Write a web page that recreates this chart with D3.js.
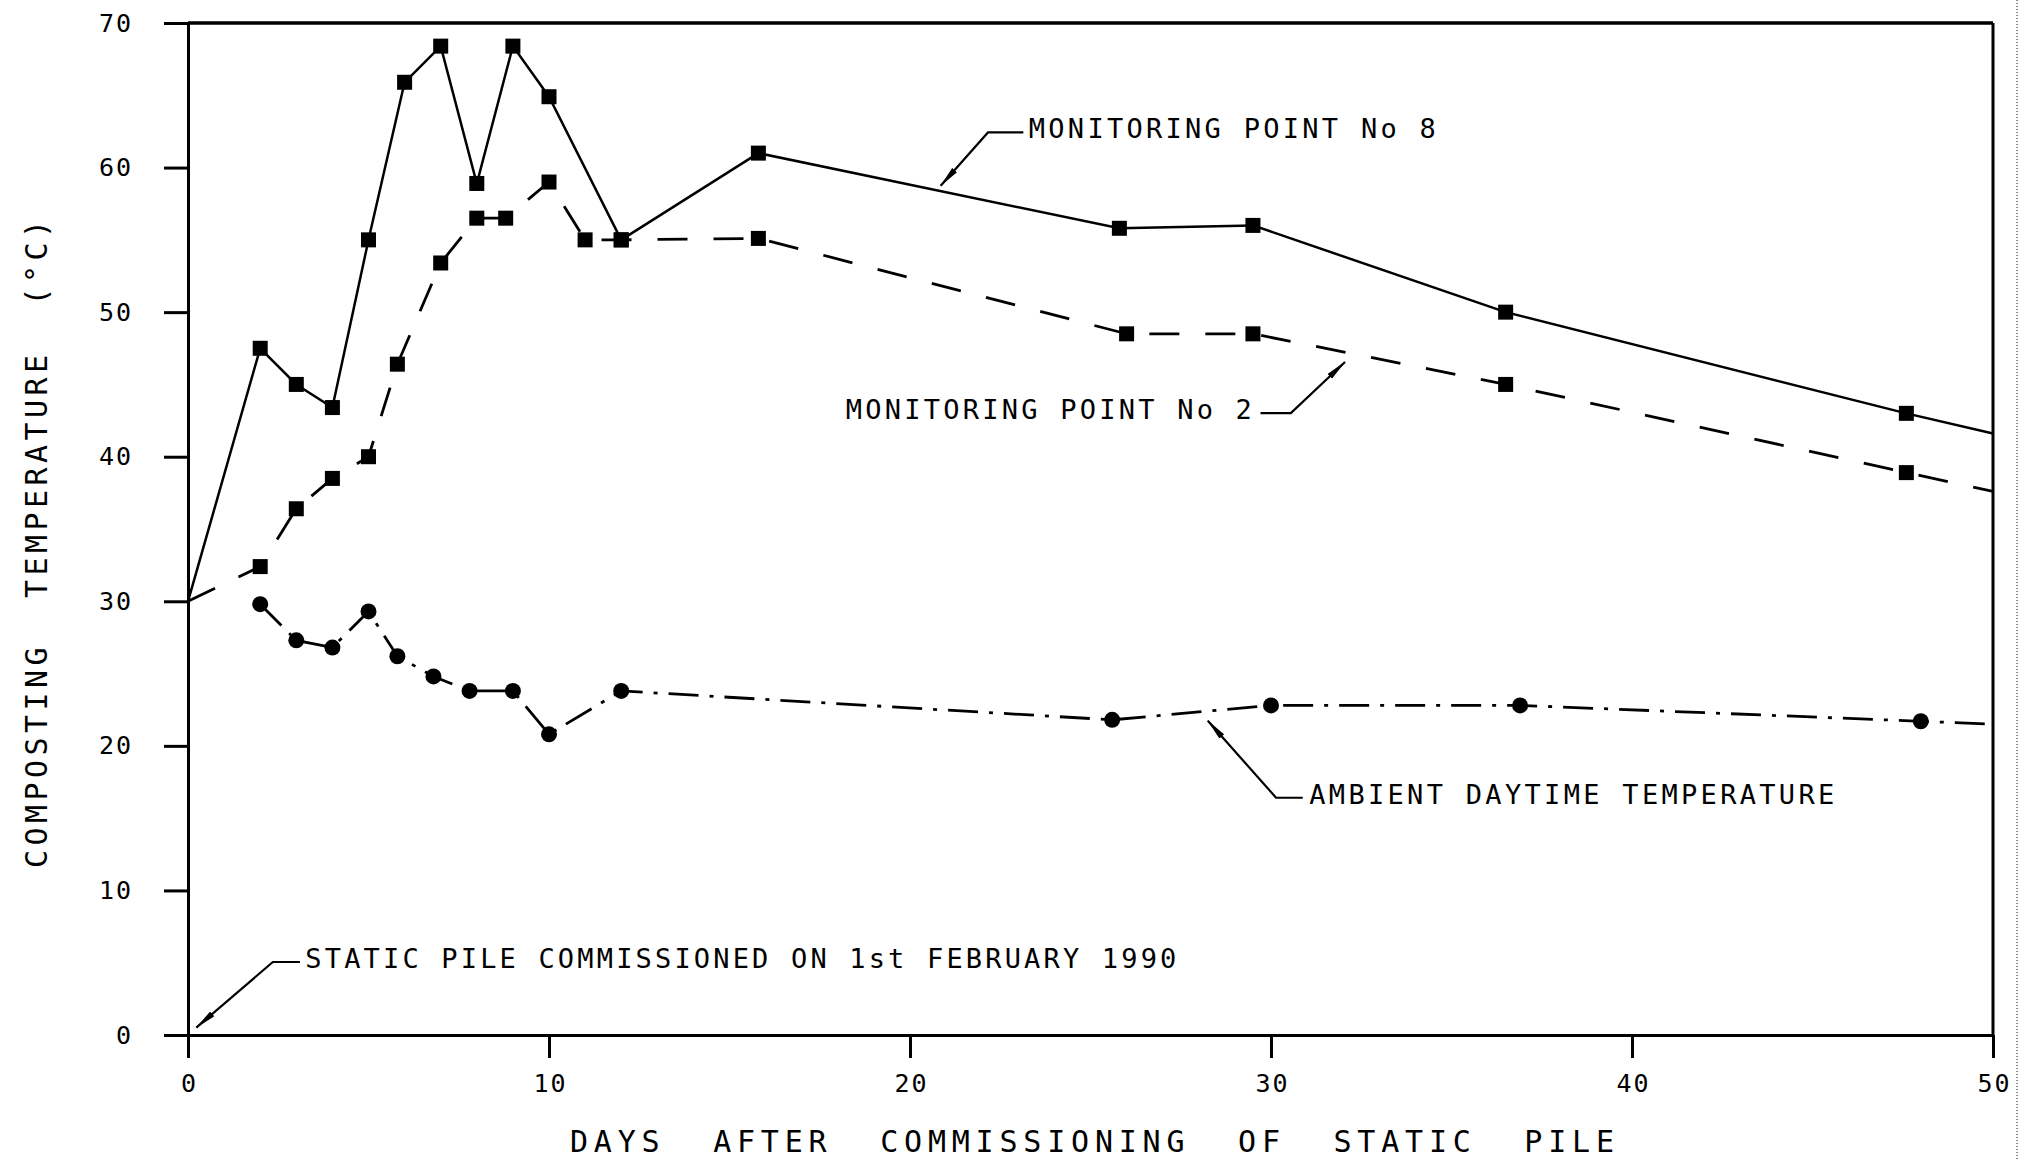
<!DOCTYPE html>
<html>
<head>
<meta charset="utf-8">
<script src="https://cdn.jsdelivr.net/npm/d3@7"></script>
<style>
    body { margin: 0; background: white; }
    svg { display: block; }
    text { font-family: "DejaVu Sans Mono", monospace; fill: black; }
</style>
</head>
<body>
<svg id="chart"></svg>
<script>
// monitoring point No 8 (solid line, squares)
var mp8Days = [2, 3, 4, 5, 6, 7, 8, 9, 10, 12, 15.8, 25.8, 29.5, 36.5, 47.6];
var mp8Temp = [47.5, 45, 43.4, 55, 65.9, 68.4, 58.9, 68.4, 64.9, 55, 61, 55.8, 56, 50, 43];
// monitoring point No 2 (dashed line, squares)
var mp2Days = [2, 3, 4, 5, 5.8, 7, 8, 8.8, 10, 11, 12, 15.8, 26, 29.5, 36.5, 47.6];
var mp2Temp = [32.4, 36.4, 38.5, 40, 46.4, 53.4, 56.5, 56.5, 59, 55, 55, 55.1, 48.5, 48.5, 45, 38.9];
// ambient daytime temperature (dash-dot line, circles)
var ambDays = [2, 3, 4, 5, 5.8, 6.8, 7.8, 9, 10, 12, 25.6, 30, 36.9, 48];
var ambTemp = [29.8, 27.3, 26.8, 29.3, 26.2, 24.8, 23.8, 23.8, 20.8, 23.8, 21.8, 22.8, 22.8, 21.7];

// start value (day 0) and the value where each line meets the right axis
var startTemp = 30;
var edgeDay = 50;
var mp8Edge = 41.6, mp2Edge = 37.6, ambEdge = 21.5;

var xTicks = [0, 10, 20, 30, 40, 50];
var yTicks = [0, 10, 20, 30, 40, 50, 60, 70];

var xTitle = "DAYS  AFTER  COMMISSIONING  OF  STATIC  PILE";
var yTitle = "COMPOSTING  TEMPERATURE  (\u00B0C)";

// labels with leader arrows, given in data units
var notes = [
    {text: "MONITORING POINT No 8", tip: [20.85, 58.74], bend: [22.16, 62.43], end: 23.14, tx: 23.29, anchor: "start", len: 407},
    {text: "MONITORING POINT No 2", tip: [32.05, 46.55], bend: [30.55, 43.02], end: 29.71, tx: 29.47, anchor: "end", len: 406},
    {text: "AMBIENT DAYTIME TEMPERATURE", tip: [28.25, 21.74], bend: [30.14, 16.41], end: 30.88, tx: 31.06, anchor: "start", len: 525},
    {text: "STATIC PILE COMMISSIONED ON 1st FEBRUARY 1990", tip: [0.23, 0.51], bend: [2.35, 5.05], end: 3.10, tx: 3.25, anchor: "start", len: 871}
];

var W = 2032, H = 1161;
var plotLeft = 188, plotRight = 1993, plotTop = 23, plotBottom = 1035;

var svg = d3.select("#chart").attr("width", W).attr("height", H);
svg.append("rect").attr("width", W).attr("height", H).attr("fill", "white");

var x = d3.scaleLinear().domain([0, 50]).range([plotLeft, plotRight]);
var y = d3.scaleLinear().domain([0, 70]).range([plotBottom, plotTop]);

// arrow head
svg.append("defs").append("marker")
    .attr("id", "arrow")
    .attr("markerUnits", "userSpaceOnUse")
    .attr("viewBox", "0 -4 22 8")
    .attr("refX", 21).attr("refY", 0)
    .attr("markerWidth", 22).attr("markerHeight", 8)
    .attr("orient", "auto")
    .append("path")
    .attr("d", "M0,-3.2L22,0L0,3.2Z")
    .attr("fill", "black");

// axes
var xAxis = svg.append("g")
    .attr("transform", "translate(0," + plotBottom + ")")
    .call(d3.axisBottom(x).tickValues(xTicks).tickSize(23).tickSizeOuter(0).tickPadding(16));
var yAxis = svg.append("g")
    .attr("transform", "translate(" + plotLeft + ",0)")
    .call(d3.axisLeft(y).tickValues(yTicks).tickSize(24).tickSizeOuter(0).tickPadding(31));

[xAxis, yAxis].forEach(function(a) {
    a.select(".domain").attr("stroke", "black").attr("stroke-width", 3);
    a.selectAll(".tick line").attr("stroke", "black").attr("stroke-width", 3);
    a.selectAll(".tick text")
        .attr("font-family", "DejaVu Sans Mono, monospace")
        .attr("font-size", "25px")
        .attr("letter-spacing", "2px")
        .attr("fill", "black");
});
xAxis.selectAll(".tick text").attr("dx", "1px");

// top and right frame
svg.append("line")
    .attr("x1", x(0)).attr("x2", x(50)).attr("y1", y(70)).attr("y2", y(70))
    .attr("stroke", "black").attr("stroke-width", 3.5);
svg.append("line")
    .attr("x1", x(50)).attr("x2", x(50)).attr("y1", y(70)).attr("y2", y(0))
    .attr("stroke", "black").attr("stroke-width", 3);

// scanner edge at far right
svg.append("line")
    .attr("x1", 2017).attr("x2", 2017).attr("y1", 0).attr("y2", H)
    .attr("stroke", "#888").attr("stroke-width", 2).attr("stroke-dasharray", "1,2");

// axis titles
svg.append("text")
    .attr("x", 570).attr("y", 1152)
    .attr("font-size", "30px")
    .attr("textLength", 1044).attr("lengthAdjust", "spacing")
    .style("white-space", "pre")
    .text(xTitle);

svg.append("text")
    .attr("transform", "translate(47,868) rotate(-90)")
    .attr("font-size", "30px")
    .attr("textLength", 648).attr("lengthAdjust", "spacing")
    .style("white-space", "pre")
    .text(yTitle);

// lines
var line = d3.line()
    .x(function(d) { return x(d[0]); })
    .y(function(d) { return y(d[1]); });

function pairs(days, temps) {
    return days.map(function(d, i) { return [d, temps[i]]; });
}

var mp8 = pairs(mp8Days, mp8Temp);
var mp2 = pairs(mp2Days, mp2Temp);
var amb = pairs(ambDays, ambTemp);

var g = svg.append("g");

g.append("path")
    .datum([[0, startTemp]].concat(mp8, [[edgeDay, mp8Edge]]))
    .attr("d", line)
    .attr("fill", "none").attr("stroke", "black").attr("stroke-width", 2.5);

g.append("path")
    .datum([[0, startTemp]].concat(mp2, [[edgeDay, mp2Edge]]))
    .attr("d", line)
    .attr("fill", "none").attr("stroke", "black").attr("stroke-width", 2.8)
    .attr("stroke-dasharray", "30,26");

g.append("path")
    .datum(amb.concat([[edgeDay, ambEdge]]))
    .attr("d", line)
    .attr("fill", "none").attr("stroke", "black").attr("stroke-width", 2.8)
    .attr("stroke-dasharray", "30,11,4,11");

// markers
var sq = 15;
g.selectAll(".sq8").data(mp8).enter().append("rect")
    .attr("x", function(d) { return x(d[0]) - sq / 2; })
    .attr("y", function(d) { return y(d[1]) - sq / 2; })
    .attr("width", sq).attr("height", sq).attr("fill", "black");

g.selectAll(".sq2").data(mp2).enter().append("rect")
    .attr("x", function(d) { return x(d[0]) - sq / 2; })
    .attr("y", function(d) { return y(d[1]) - sq / 2; })
    .attr("width", sq).attr("height", sq).attr("fill", "black");

g.selectAll(".dot").data(amb).enter().append("circle")
    .attr("cx", function(d) { return x(d[0]); })
    .attr("cy", function(d) { return y(d[1]); })
    .attr("r", 8).attr("fill", "black");

// annotations
notes.forEach(function(n) {
    var by = y(n.bend[1]);
    svg.append("path")
        .attr("d", "M" + x(n.end) + "," + by + "L" + x(n.bend[0]) + "," + by + "L" + x(n.tip[0]) + "," + y(n.tip[1]))
        .attr("fill", "none").attr("stroke", "black").attr("stroke-width", 2.2)
        .attr("marker-end", "url(#arrow)");
    svg.append("text")
        .attr("x", x(n.tx)).attr("y", by + 6)
        .attr("text-anchor", n.anchor)
        .attr("font-size", "27px")
        .attr("textLength", n.len).attr("lengthAdjust", "spacing")
        .text(n.text);
});
</script>
</body>
</html>
